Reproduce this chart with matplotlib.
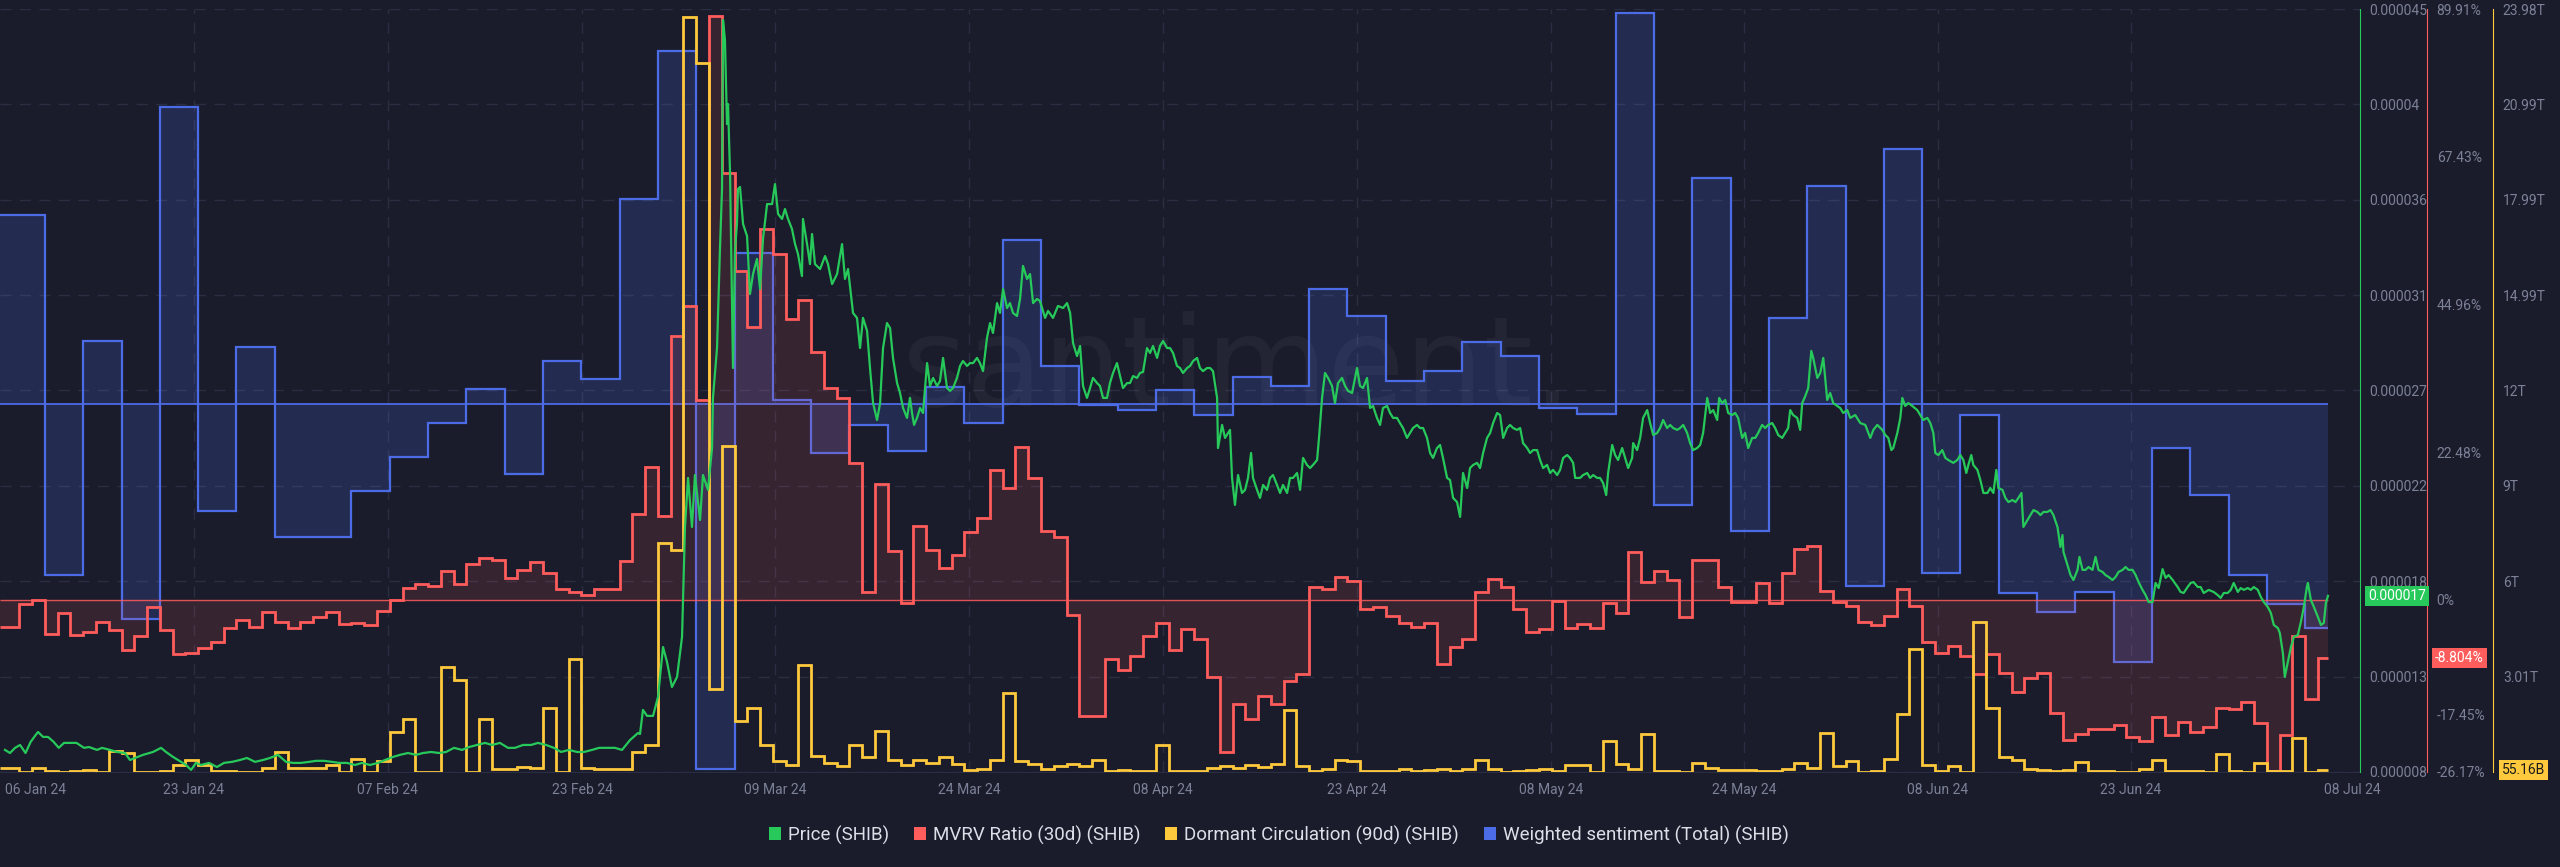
import numpy as np
import matplotlib
matplotlib.use("Agg")
import matplotlib.pyplot as plt
from matplotlib.patches import Patch

plt.rcParams["font.family"] = ["Roboto", "DejaVu Sans"]

# ---------------- data ----------------
# x axis is "days" from the first daily boundary shown in the chart
X_MIN, X_MAX, DATA_END = -1.52, 183.29, 180.78

XTICK_POS = [1.30, 13.67, 28.86, 44.06, 59.17, 74.36, 89.55, 104.74,
             119.93, 135.05, 150.24, 165.35, 182.73]
XTICK_LABELS = ["06 Jan 24", "23 Jan 24", "07 Feb 24", "23 Feb 24", "09 Mar 24",
                "24 Mar 24", "08 Apr 24", "23 Apr 24", "08 May 24", "24 May 24",
                "08 Jun 24", "23 Jun 24", "08 Jul 24"]

# MVRV ratio (30d), %, one value per day
MVRV = [-4.1, -0.6, 0.0, -5.2, -2.0, -5.3, -4.9, -3.3, -4.6, -7.6,
        -5.5, -1.1, -4.6, -8.2, -8.1, -7.3, -6.4, -4.3, -3.0, -4.1,
        -1.8, -3.3, -4.3, -3.3, -2.6, -1.8, -3.6, -3.5, -3.8, -1.7,
        0.0, 1.8, 2.4, 2.1, 4.4, 2.4, 5.5, 6.4, 6.1, 3.3,
        4.6, 5.8, 4.1, 1.7, 1.2, 0.8, 1.7, 1.7, 5.9, 13.1,
        20.2, 12.8, 40.1, 44.7, 30.4, 88.9, 65.0, 50.0, 41.6, 56.5,
        52.6, 42.8, 45.7, 37.8, 32.2, 30.7, 20.8, 1.2, 17.6, 7.4,
        -0.5, 11.2, 7.6, 4.9, 6.8, 10.3, 12.5, 19.7, 17.0, 23.2,
        18.5, 10.5, 9.6, -2.3, -17.6, -17.6, -9.0, -10.6, -8.5, -5.5,
        -3.5, -7.6, -4.4, -5.9, -11.7, -23.2, -15.8, -18.1, -14.6, -15.9,
        -12.3, -11.2, 2.0, 1.7, 3.5, 2.9, -1.4, -1.1, -2.4, -3.5,
        -4.1, -3.5, -9.7, -7.1, -5.9, 1.2, 3.2, 2.0, -1.4, -4.9,
        -4.4, -0.2, -4.3, -3.6, -4.3, -0.5, -2.0, 7.3, 2.7, 4.4,
        3.0, -2.6, 6.1, 6.1, 2.0, -0.3, -0.3, 2.6, -0.5, 4.1,
        7.7, 8.2, 1.4, -0.3, -0.9, -3.3, -3.8, -2.4, 1.7, -0.9,
        -6.4, -8.1, -7.0, -8.5, -11.2, -8.2, -11.1, -14.0, -11.8, -11.1,
        -17.2, -21.3, -20.4, -19.7, -19.7, -19.0, -20.8, -21.4, -17.8, -20.5,
        -18.5, -20.1, -19.3, -16.4, -16.6, -15.5, -18.7, -26.0, -20.5, -5.5,
        -15.0, -8.804]

# Dormant circulation (90d), trillions of SHIB, one value per day
DORMANT = [0.13, 0.01, 0.12, 0.04, 0.01, 0.03, 0.06, 0.01, 0.67, 0.59,
           0.01, 0.01, 0.04, 0.22, 0.38, 0.22, 0.04, 0.04, 0.01, 0.01,
           0.12, 0.62, 0.14, 0.14, 0.14, 0.22, 0.00, 0.40, 0.01, 0.35,
           1.25, 1.66, 0.01, 0.01, 3.31, 2.89, 0.01, 1.68, 0.08, 0.08,
           0.17, 0.12, 2.00, 0.01, 3.55, 0.12, 0.08, 0.08, 0.08, 0.64,
           0.85, 7.21, 6.98, 23.73, 22.28, 2.61, 10.25, 1.60, 2.01, 0.85,
           0.35, 0.22, 3.36, 0.50, 0.28, 0.19, 0.85, 0.47, 1.29, 0.38,
           0.22, 0.38, 0.28, 0.47, 0.25, 0.06, 0.09, 0.38, 2.48, 0.35,
           0.25, 0.09, 0.19, 0.25, 0.19, 0.38, 0.03, 0.06, 0.03, 0.03,
           0.85, 0.03, 0.03, 0.03, 0.13, 0.19, 0.13, 0.22, 0.16, 0.25,
           1.95, 0.19, 0.03, 0.09, 0.38, 0.35, 0.03, 0.03, 0.03, 0.09,
           0.03, 0.06, 0.09, 0.03, 0.09, 0.38, 0.09, 0.00, 0.03, 0.06,
           0.09, 0.03, 0.22, 0.22, 0.00, 0.97, 0.25, 0.09, 1.19, 0.03,
           0.03, 0.00, 0.28, 0.13, 0.06, 0.06, 0.06, 0.03, 0.03, 0.09,
           0.28, 0.13, 1.23, 0.19, 0.35, 0.00, 0.03, 0.41, 1.82, 3.87,
           0.22, 0.03, 0.19, 0.00, 4.71, 2.01, 0.47, 0.38, 0.09, 0.06,
           0.03, 0.06, 0.31, 0.03, 0.03, 0.00, 0.00, 0.09, 0.38, 0.03,
           0.03, 0.03, 0.00, 0.57, 0.03, 0.00, 0.28, 0.03, 0.03, 1.07,
           0.00, 0.05516]

# Weighted sentiment (total), one value per 3-day block
SENTIMENT = [1.89, -1.71, 0.63, -2.15, 2.97, -1.07, 0.57, -1.33, -1.33, -0.87,
             -0.53, -0.19, 0.15, -0.70, 0.43, 0.25, 2.05, 3.53, -3.65, 1.51,
             0.04, -0.49, -0.21, -0.47, 0.17, -0.19, 1.64, 0.38, -0.01, -0.06,
             0.14, -0.11, 0.27, 0.18, 1.15, 0.88, 0.23, 0.33, 0.62, 0.48,
             -0.04, -0.10, 3.91, -1.01, 2.26, -1.27, 0.86, 2.18, -1.82, 2.55,
             -1.69, -0.11, -1.89, -2.08, -1.88, -2.58, -0.44, -0.91, -1.71, -2.00,
             -2.24]

# Price (SHIB), (day, price in millionths of USD)
PRICE = [
    (-1.13, 9.07), (-0.74, 8.92), (-0.34, 9.17), (0.05, 9.31), (0.48, 8.92),
    (0.88, 9.46), (1.28, 9.80), (1.46, 9.94), (1.85, 9.70), (2.24, 9.70),
    (2.68, 9.46), (3.08, 9.17), (3.49, 9.41), (3.88, 9.41), (4.47, 9.41),
    (5.06, 9.17), (5.45, 9.21), (6.08, 9.07), (6.47, 9.17), (7.10, 9.07),
    (7.64, 8.97), (8.27, 8.92), (8.66, 8.58), (9.05, 8.68), (9.68, 8.83),
    (10.46, 8.97), (11.09, 9.17), (11.48, 8.97), (12.03, 8.73), (12.65, 8.49),
    (13.05, 8.34), (13.44, 8.10), (13.83, 8.44), (14.22, 8.34), (14.85, 8.44),
    (15.47, 8.24), (16.02, 8.44), (16.65, 8.49), (17.27, 8.58), (17.82, 8.68),
    (18.45, 8.49), (19.08, 8.58), (19.62, 8.68), (20.25, 8.83), (20.88, 8.49),
    (21.43, 8.44), (22.05, 8.44), (22.68, 8.49), (23.23, 8.54), (23.85, 8.54),
    (24.48, 8.49), (25.03, 8.44), (25.65, 8.44), (26.28, 8.34), (26.83, 8.44),
    (27.45, 8.34), (28.08, 8.44), (28.63, 8.58), (29.26, 8.73), (29.80, 8.83),
    (30.43, 8.92), (31.06, 8.83), (31.61, 8.92), (32.23, 8.97), (32.86, 8.92),
    (33.41, 8.97), (34.03, 9.17), (34.66, 9.07), (35.21, 9.21), (35.83, 9.31),
    (36.46, 9.41), (37.01, 9.31), (37.63, 9.41), (38.26, 9.17), (38.81, 9.17),
    (39.44, 9.31), (40.06, 9.31), (40.61, 9.41), (41.24, 9.31), (41.86, 9.17),
    (42.41, 8.97), (43.04, 9.07), (43.67, 8.97), (44.21, 8.97), (44.84, 9.07),
    (45.39, 9.17), (46.02, 9.17), (46.64, 9.17), (47.19, 9.07), (47.82, 9.55),
    (48.44, 9.89), (48.60, 9.84), (48.83, 11.01), (49.15, 10.72), (49.62, 10.72),
    (50.01, 11.64), (50.40, 14.06), (50.71, 13.34), (51.10, 12.12), (51.50, 12.61),
    (51.89, 14.55), (52.12, 19.88), (52.36, 22.26), (52.67, 19.88), (52.90, 22.40),
    (53.30, 20.22), (53.53, 22.40), (53.92, 21.68), (54.24, 23.71), (54.31, 26.14),
    (54.63, 28.56), (54.86, 33.36), (55.02, 36.27), (55.10, 44.47), (55.25, 43.50),
    (55.41, 39.42), (55.49, 40.39), (55.65, 37.00), (55.88, 27.59), (56.04, 33.36),
    (56.19, 34.57), (56.27, 36.27), (56.43, 36.37), (56.67, 34.57), (56.98, 33.99),
    (57.21, 31.18), (57.45, 32.15), (57.76, 32.88), (58.00, 31.42), (58.23, 33.85),
    (58.55, 35.54), (58.94, 35.54), (59.17, 36.51), (59.41, 35.06), (59.72, 34.82),
    (59.95, 35.30), (60.19, 34.82), (60.50, 34.33), (60.74, 33.60), (60.97, 33.12),
    (61.28, 32.05), (61.36, 34.82), (61.68, 33.60), (61.91, 32.63), (62.07, 34.09),
    (62.30, 32.63), (62.70, 32.39), (63.09, 33.02), (63.32, 32.63), (63.64, 31.66),
    (64.03, 32.15), (64.42, 33.60), (64.65, 31.91), (64.89, 32.39), (65.28, 30.26),
    (65.59, 30.02), (65.83, 28.56), (66.06, 30.02), (66.38, 29.39), (66.61, 27.59),
    (66.85, 25.89), (67.16, 25.07), (67.40, 25.89), (67.63, 28.56), (67.94, 29.77),
    (68.18, 29.53), (68.41, 28.08), (68.73, 26.86), (68.96, 26.38), (69.20, 25.65),
    (69.51, 25.17), (69.74, 26.14), (69.90, 25.41), (70.06, 24.83), (70.29, 25.17),
    (70.53, 25.65), (70.76, 25.41), (71.08, 27.83), (71.31, 26.72), (71.55, 27.11),
    (71.86, 26.72), (72.09, 26.96), (72.33, 28.08), (72.64, 26.62), (72.88, 26.48),
    (73.11, 26.62), (73.42, 27.11), (73.66, 27.69), (73.89, 27.93), (74.21, 27.69),
    (74.44, 27.83), (74.68, 27.83), (74.99, 28.08), (75.22, 27.83), (75.46, 27.44),
    (75.77, 29.05), (76.01, 29.77), (76.24, 29.29), (76.56, 30.74), (76.79, 30.26),
    (77.03, 31.42), (77.34, 30.50), (77.57, 30.74), (77.81, 30.26), (78.12, 30.11),
    (78.36, 30.94), (78.59, 32.54), (78.91, 31.91), (79.14, 32.15), (79.38, 30.74),
    (79.69, 30.94), (79.92, 30.84), (80.32, 30.02), (80.55, 30.36), (80.94, 30.02),
    (81.33, 30.60), (81.73, 30.50), (82.04, 30.74), (82.28, 30.26), (82.51, 28.80),
    (82.82, 28.17), (83.06, 28.66), (83.29, 26.72), (83.60, 26.14), (83.84, 26.62),
    (84.07, 27.11), (84.39, 26.86), (84.62, 26.72), (84.86, 26.14), (85.17, 26.14),
    (85.40, 26.86), (85.64, 27.35), (85.95, 27.83), (86.19, 27.20), (86.42, 26.62),
    (86.74, 26.86), (86.97, 26.86), (87.21, 27.20), (87.52, 27.11), (87.75, 27.35),
    (87.99, 27.40), (88.30, 28.56), (88.54, 28.32), (88.77, 28.66), (89.09, 28.08),
    (89.32, 28.66), (89.56, 28.90), (89.87, 28.56), (90.10, 28.56), (90.34, 28.32),
    (90.65, 27.69), (90.89, 27.59), (91.12, 27.35), (91.44, 27.59), (91.67, 27.69),
    (91.91, 27.93), (92.22, 28.08), (92.45, 27.59), (92.69, 27.44), (93.00, 27.59),
    (93.24, 27.59), (93.47, 27.44), (93.79, 26.14), (93.86, 23.71), (94.18, 24.83),
    (94.41, 24.20), (94.80, 24.59), (94.96, 22.26), (95.19, 20.95), (95.43, 22.40),
    (95.74, 21.53), (95.98, 21.68), (96.21, 22.26), (96.45, 23.47), (96.60, 22.26),
    (96.92, 21.68), (97.15, 21.29), (97.39, 21.92), (97.70, 21.68), (97.94, 22.26),
    (98.17, 22.40), (98.48, 21.92), (98.72, 21.53), (98.95, 21.92), (99.27, 21.53),
    (99.50, 22.26), (99.74, 22.26), (100.05, 22.50), (100.29, 21.68), (100.52, 23.23),
    (100.83, 22.89), (101.07, 22.74), (101.30, 22.89), (101.62, 23.13), (101.77, 24.20),
    (102.01, 26.14), (102.24, 27.35), (102.48, 27.11), (102.79, 26.72), (103.02, 25.89),
    (103.26, 26.86), (103.57, 27.11), (103.81, 26.72), (104.04, 26.48), (104.36, 26.38),
    (104.59, 27.11), (104.75, 27.59), (104.98, 26.72), (105.22, 26.62), (105.53, 27.11),
    (105.77, 25.65), (106.00, 25.75), (106.31, 25.17), (106.55, 24.83), (106.78, 25.65),
    (107.10, 25.75), (107.33, 25.41), (107.57, 25.17), (107.88, 25.17), (108.11, 24.92),
    (108.35, 24.68), (108.66, 24.20), (108.90, 24.44), (109.13, 24.68), (109.45, 24.83),
    (109.68, 24.68), (109.92, 24.68), (110.23, 24.20), (110.47, 23.47), (110.70, 23.23),
    (111.01, 23.71), (111.25, 23.86), (111.48, 23.23), (111.80, 22.26), (112.03, 22.16),
    (112.27, 21.29), (112.58, 21.09), (112.82, 20.37), (113.05, 22.50), (113.37, 21.77),
    (113.60, 22.74), (113.84, 22.89), (114.15, 22.99), (114.38, 22.74), (114.62, 23.47),
    (114.93, 24.20), (115.17, 24.44), (115.40, 24.92), (115.72, 25.41), (115.95, 25.31),
    (116.19, 24.20), (116.50, 24.68), (116.73, 24.83), (116.97, 24.68), (117.28, 24.59),
    (117.52, 24.68), (117.75, 23.95), (118.07, 23.71), (118.30, 23.47), (118.54, 23.61),
    (118.85, 23.61), (119.08, 23.13), (119.32, 22.74), (119.63, 22.89), (119.87, 22.50),
    (120.10, 22.65), (120.42, 22.40), (120.65, 22.65), (120.89, 23.23), (121.20, 23.37),
    (121.43, 23.23), (121.67, 22.99), (121.83, 22.26), (122.22, 22.26), (122.45, 22.40),
    (122.77, 22.50), (123.00, 22.26), (123.24, 22.40), (123.55, 22.26), (123.78, 22.26),
    (124.02, 22.01), (124.26, 21.43), (124.41, 22.50), (124.73, 23.86), (124.96, 23.37),
    (125.19, 23.13), (125.51, 23.71), (125.74, 23.23), (125.98, 22.74), (126.29, 23.23),
    (126.37, 23.95), (126.68, 23.61), (126.92, 24.20), (127.15, 25.17), (127.47, 25.55),
    (127.70, 24.92), (127.94, 24.34), (128.25, 24.44), (128.48, 24.68), (128.72, 25.07),
    (129.03, 24.68), (129.27, 24.83), (129.50, 24.68), (129.82, 24.59), (130.05, 24.68),
    (130.29, 24.83), (130.60, 24.44), (130.83, 23.95), (131.07, 23.61), (131.38, 23.71),
    (131.62, 23.86), (131.85, 24.44), (132.17, 26.14), (132.40, 25.41), (132.64, 25.55),
    (132.95, 25.07), (133.11, 26.14), (133.34, 25.89), (133.58, 26.04), (133.81, 25.41),
    (134.12, 25.31), (134.36, 25.41), (134.59, 25.17), (134.91, 24.20), (135.14, 24.44),
    (135.38, 23.71), (135.69, 24.20), (135.93, 24.20), (136.16, 24.44), (136.47, 24.83),
    (136.71, 24.68), (136.94, 24.83), (137.26, 24.92), (137.49, 24.68), (137.73, 24.34),
    (138.04, 24.20), (138.28, 24.44), (138.51, 24.68), (138.67, 25.55), (138.90, 25.31),
    (139.22, 25.17), (139.45, 24.59), (139.61, 25.89), (139.85, 26.23), (140.08, 26.62),
    (140.32, 28.42), (140.47, 28.08), (140.79, 27.11), (141.02, 27.35), (141.26, 28.08),
    (141.57, 26.04), (141.80, 26.38), (142.04, 25.89), (142.35, 25.75), (142.59, 25.65),
    (142.82, 25.41), (143.14, 25.55), (143.37, 25.17), (143.76, 25.31), (144.16, 24.92),
    (144.55, 24.83), (144.94, 24.20), (145.18, 24.59), (145.49, 24.83), (145.88, 24.59),
    (146.12, 24.34), (146.35, 24.20), (146.59, 23.61), (146.74, 23.71), (147.06, 24.44),
    (147.29, 25.17), (147.45, 26.14), (147.68, 25.75), (147.92, 25.89), (148.23, 25.75),
    (148.62, 25.55), (148.86, 25.31), (149.09, 25.07), (149.41, 25.17), (149.64, 24.92),
    (149.88, 24.44), (150.03, 23.47), (150.27, 23.37), (150.58, 23.61), (150.82, 23.23),
    (151.05, 23.13), (151.44, 22.99), (151.76, 23.13), (151.99, 23.37), (152.23, 23.13),
    (152.46, 22.50), (152.62, 22.89), (152.85, 23.37), (153.01, 22.89), (153.33, 22.65),
    (153.56, 22.16), (153.80, 21.53), (154.11, 21.53), (154.34, 21.77), (154.58, 21.53),
    (154.81, 22.65), (154.97, 21.77), (155.29, 21.68), (155.52, 21.29), (155.76, 21.09),
    (156.07, 21.19), (156.31, 21.09), (156.54, 21.29), (156.78, 21.53), (156.93, 19.88),
    (157.25, 20.22), (157.48, 20.46), (157.72, 20.70), (158.03, 20.61), (158.27, 20.46),
    (158.50, 20.61), (158.81, 20.61), (159.05, 20.70), (159.28, 20.46), (159.60, 19.88),
    (159.83, 18.91), (159.99, 19.49), (160.07, 18.67), (160.38, 18.04), (160.62, 17.55),
    (160.85, 17.31), (161.17, 17.80), (161.32, 18.43), (161.56, 17.80), (161.79, 17.80),
    (162.03, 17.94), (162.34, 17.80), (162.58, 18.43), (162.81, 17.80), (163.13, 17.70),
    (163.36, 17.55), (163.60, 17.46), (163.91, 17.31), (164.15, 17.46), (164.38, 17.70),
    (164.70, 17.80), (164.93, 17.94), (165.17, 17.80), (165.48, 17.80), (165.72, 17.55),
    (165.95, 17.21), (166.26, 16.83), (166.50, 16.58), (166.74, 16.24), (167.05, 16.24),
    (167.28, 17.17), (167.52, 16.92), (167.83, 17.84), (168.07, 17.41), (168.30, 17.55),
    (168.62, 17.31), (169.01, 16.97), (169.24, 16.73), (169.48, 16.68), (169.79, 16.97),
    (170.03, 17.17), (170.26, 17.21), (170.58, 16.97), (170.81, 16.97), (171.05, 16.68),
    (171.44, 16.83), (171.83, 16.73), (172.15, 16.58), (172.38, 16.44), (172.62, 16.68),
    (172.93, 16.68), (173.17, 16.83), (173.40, 17.17), (173.72, 16.73), (173.95, 16.92),
    (174.19, 16.83), (174.50, 16.92), (174.74, 16.83), (174.97, 16.97), (175.29, 16.83),
    (175.52, 16.49), (175.76, 16.24), (176.07, 16.00), (176.31, 15.71), (176.54, 15.13),
    (176.86, 14.98), (177.01, 14.74), (177.25, 13.77), (177.40, 12.61), (177.64, 13.34),
    (177.88, 14.06), (178.11, 14.55), (178.42, 14.64), (178.66, 15.27), (178.89, 16.00),
    (179.13, 16.97), (179.21, 17.17), (179.44, 16.34), (179.68, 16.00), (179.99, 15.52),
    (180.23, 15.13), (180.46, 15.23), (180.62, 16.20), (180.78, 16.54),
]

PRICE_TICKS = [8.0, 12.625, 17.25, 21.875, 26.5, 31.125, 35.75, 40.375, 45.0]
PRICE_TICK_LABELS = ["0.000008", "0.000013", "0.000018", "0.000022", "0.000027",
                     "0.000031", "0.000036", "0.00004", "0.000045"]
MVRV_TICKS = [-26.17, -17.45, 0.0, 22.48, 44.96, 67.43, 89.91]
DORM_TICKS = [3.01, 6, 9, 12, 14.99, 17.99, 20.99, 23.98]

# ---------------- style ----------------
BG = "#1a1c2b"
GRID = "#2a2e43"
TICK = "#7c8197"
LEG = "#dcdfe8"
GREEN = "#26c95a"
RED = "#ff5c5c"
YELLOW = "#ffc93d"
BLUE = "#4c6be6"

price_day = np.array([d for d, _ in PRICE])
price = np.array([p for _, p in PRICE]) * 1e-6
day_edges = np.r_[X_MIN, np.arange(len(MVRV) - 1), DATA_END]
sent_edges = np.r_[X_MIN, 2 + 3 * np.arange(len(SENTIMENT) - 1), DATA_END]

fig = plt.figure(figsize=(25.6, 8.67), dpi=100, facecolor=BG)
ax_s = fig.add_axes([0.0, 0.1096, 0.921875, 0.8800])
ax_s.set_facecolor(BG)
ax_m = ax_s.twinx()
ax_d = ax_s.twinx()
ax_p = ax_s.twinx()

for a in (ax_s, ax_m, ax_d, ax_p):
    for sp in a.spines.values():
        sp.set_visible(False)
    a.tick_params(length=0)
ax_s.set_xlim(X_MIN, X_MAX)

# grid (price ticks are evenly spaced over the full height)
for i in range(9):
    ax_s.plot([0, 1], [i / 8, i / 8], transform=ax_s.transAxes, color=GRID,
              lw=1, ls=(0, (8, 6)), zorder=0)
for xp in XTICK_POS[1:-1]:
    ax_s.axvline(xp, color=GRID, lw=1, ls=(0, (8, 6)), zorder=0)

# watermark
ax_s.text(0.524, 0.525, "santiment.", transform=ax_s.transAxes, ha="center",
          va="center", fontsize=90, color="white", alpha=0.045,
          family="DejaVu Sans", zorder=0)

# weighted sentiment
ax_s.set_ylim(-3.68, 3.95)
ax_s.set_yticks([])
ax_s.stairs(SENTIMENT, sent_edges, baseline=0, fill=True, color=BLUE,
            alpha=0.2, lw=0, zorder=1)
ax_s.stairs(SENTIMENT, sent_edges, baseline=None, color=BLUE, lw=1.6, zorder=2)
ax_s.hlines(0, X_MIN, DATA_END, color=BLUE, lw=1.3, zorder=2)

# MVRV
ax_m.set_ylim(-26.17, 89.91)
ax_m.stairs(MVRV, day_edges, baseline=0, fill=True, color=RED, alpha=0.13, lw=0)
ax_m.stairs(MVRV, day_edges, baseline=None, color=RED, lw=2.0)
ax_m.hlines(0, X_MIN, DATA_END, color=RED, lw=1.0, alpha=0.85)
ax_m.set_yticks(MVRV_TICKS)
ax_m.set_yticklabels([f"{v:g}%" if v == 0 else f"{v:.2f}%" for v in MVRV_TICKS])
ax_m.spines["right"].set_visible(True)
ax_m.spines["right"].set_position(("axes", 1.0284))
ax_m.spines["right"].set_color(RED)
ax_m.tick_params(axis="y", colors=TICK, labelsize=10, pad=7, length=0)

# dormant circulation
ax_d.set_ylim(0, 23.98)
ax_d.stairs(DORMANT, day_edges, baseline=None, color=YELLOW, lw=2.0)
ax_d.set_yticks(DORM_TICKS)
ax_d.set_yticklabels([f"{v:g}T" for v in DORM_TICKS])
ax_d.spines["right"].set_visible(True)
ax_d.spines["right"].set_position(("axes", 1.0564))
ax_d.spines["right"].set_color(YELLOW)
ax_d.tick_params(axis="y", colors=TICK, labelsize=10, pad=7, length=0)

# price
ax_p.set_ylim(8e-6, 45e-6)
ax_p.plot(price_day, price, color=GREEN, lw=1.6)
ax_p.set_yticks(np.array(PRICE_TICKS) * 1e-6)
ax_p.set_yticklabels(PRICE_TICK_LABELS)
ax_p.spines["right"].set_visible(True)
ax_p.spines["right"].set_color(GREEN)
ax_p.tick_params(axis="y", colors=TICK, labelsize=10, pad=7, length=0)

# x axis
ax_s.set_xticks(XTICK_POS)
ax_s.set_xticklabels(XTICK_LABELS)
ax_s.tick_params(axis="x", colors=TICK, labelsize=10, pad=8, length=0)
ax_s.spines["bottom"].set_visible(True)
ax_s.spines["bottom"].set_color(GRID)

# last-value badges
ax_p.text(1.0035, price[-1], f"{price[-1]:.6f}", transform=ax_p.get_yaxis_transform(),
          ha="left", va="center", color="white", fontsize=10, zorder=10,
          bbox=dict(boxstyle="square,pad=0.2", fc=GREEN, ec="none"))
ax_m.text(1.0318, MVRV[-1], f"{MVRV[-1]:.3f}%", transform=ax_m.get_yaxis_transform(),
          ha="left", va="center", color="white", fontsize=10, zorder=10,
          bbox=dict(boxstyle="square,pad=0.2", fc=RED, ec="none"))
ax_d.text(1.0600, DORMANT[-1], f"{DORMANT[-1] * 1000:.2f}B",
          transform=ax_d.get_yaxis_transform(), ha="left", va="center",
          color="#1a1a1a", fontsize=10, zorder=10,
          bbox=dict(boxstyle="square,pad=0.2", fc=YELLOW, ec="none"))

# legend
handles = [Patch(facecolor=GREEN, label="Price (SHIB)"),
           Patch(facecolor=RED, label="MVRV Ratio (30d) (SHIB)"),
           Patch(facecolor=YELLOW, label="Dormant Circulation (90d) (SHIB)"),
           Patch(facecolor=BLUE, label="Weighted sentiment (Total) (SHIB)")]
fig.legend(handles=handles, loc="center", bbox_to_anchor=(0.4995, 0.037), ncol=4,
           frameon=False, fontsize=13.5, labelcolor=LEG, handlelength=0.64,
           handleheight=0.64, handletextpad=0.37, columnspacing=1.33)

fig.savefig("out.png", dpi=100, facecolor=BG)
